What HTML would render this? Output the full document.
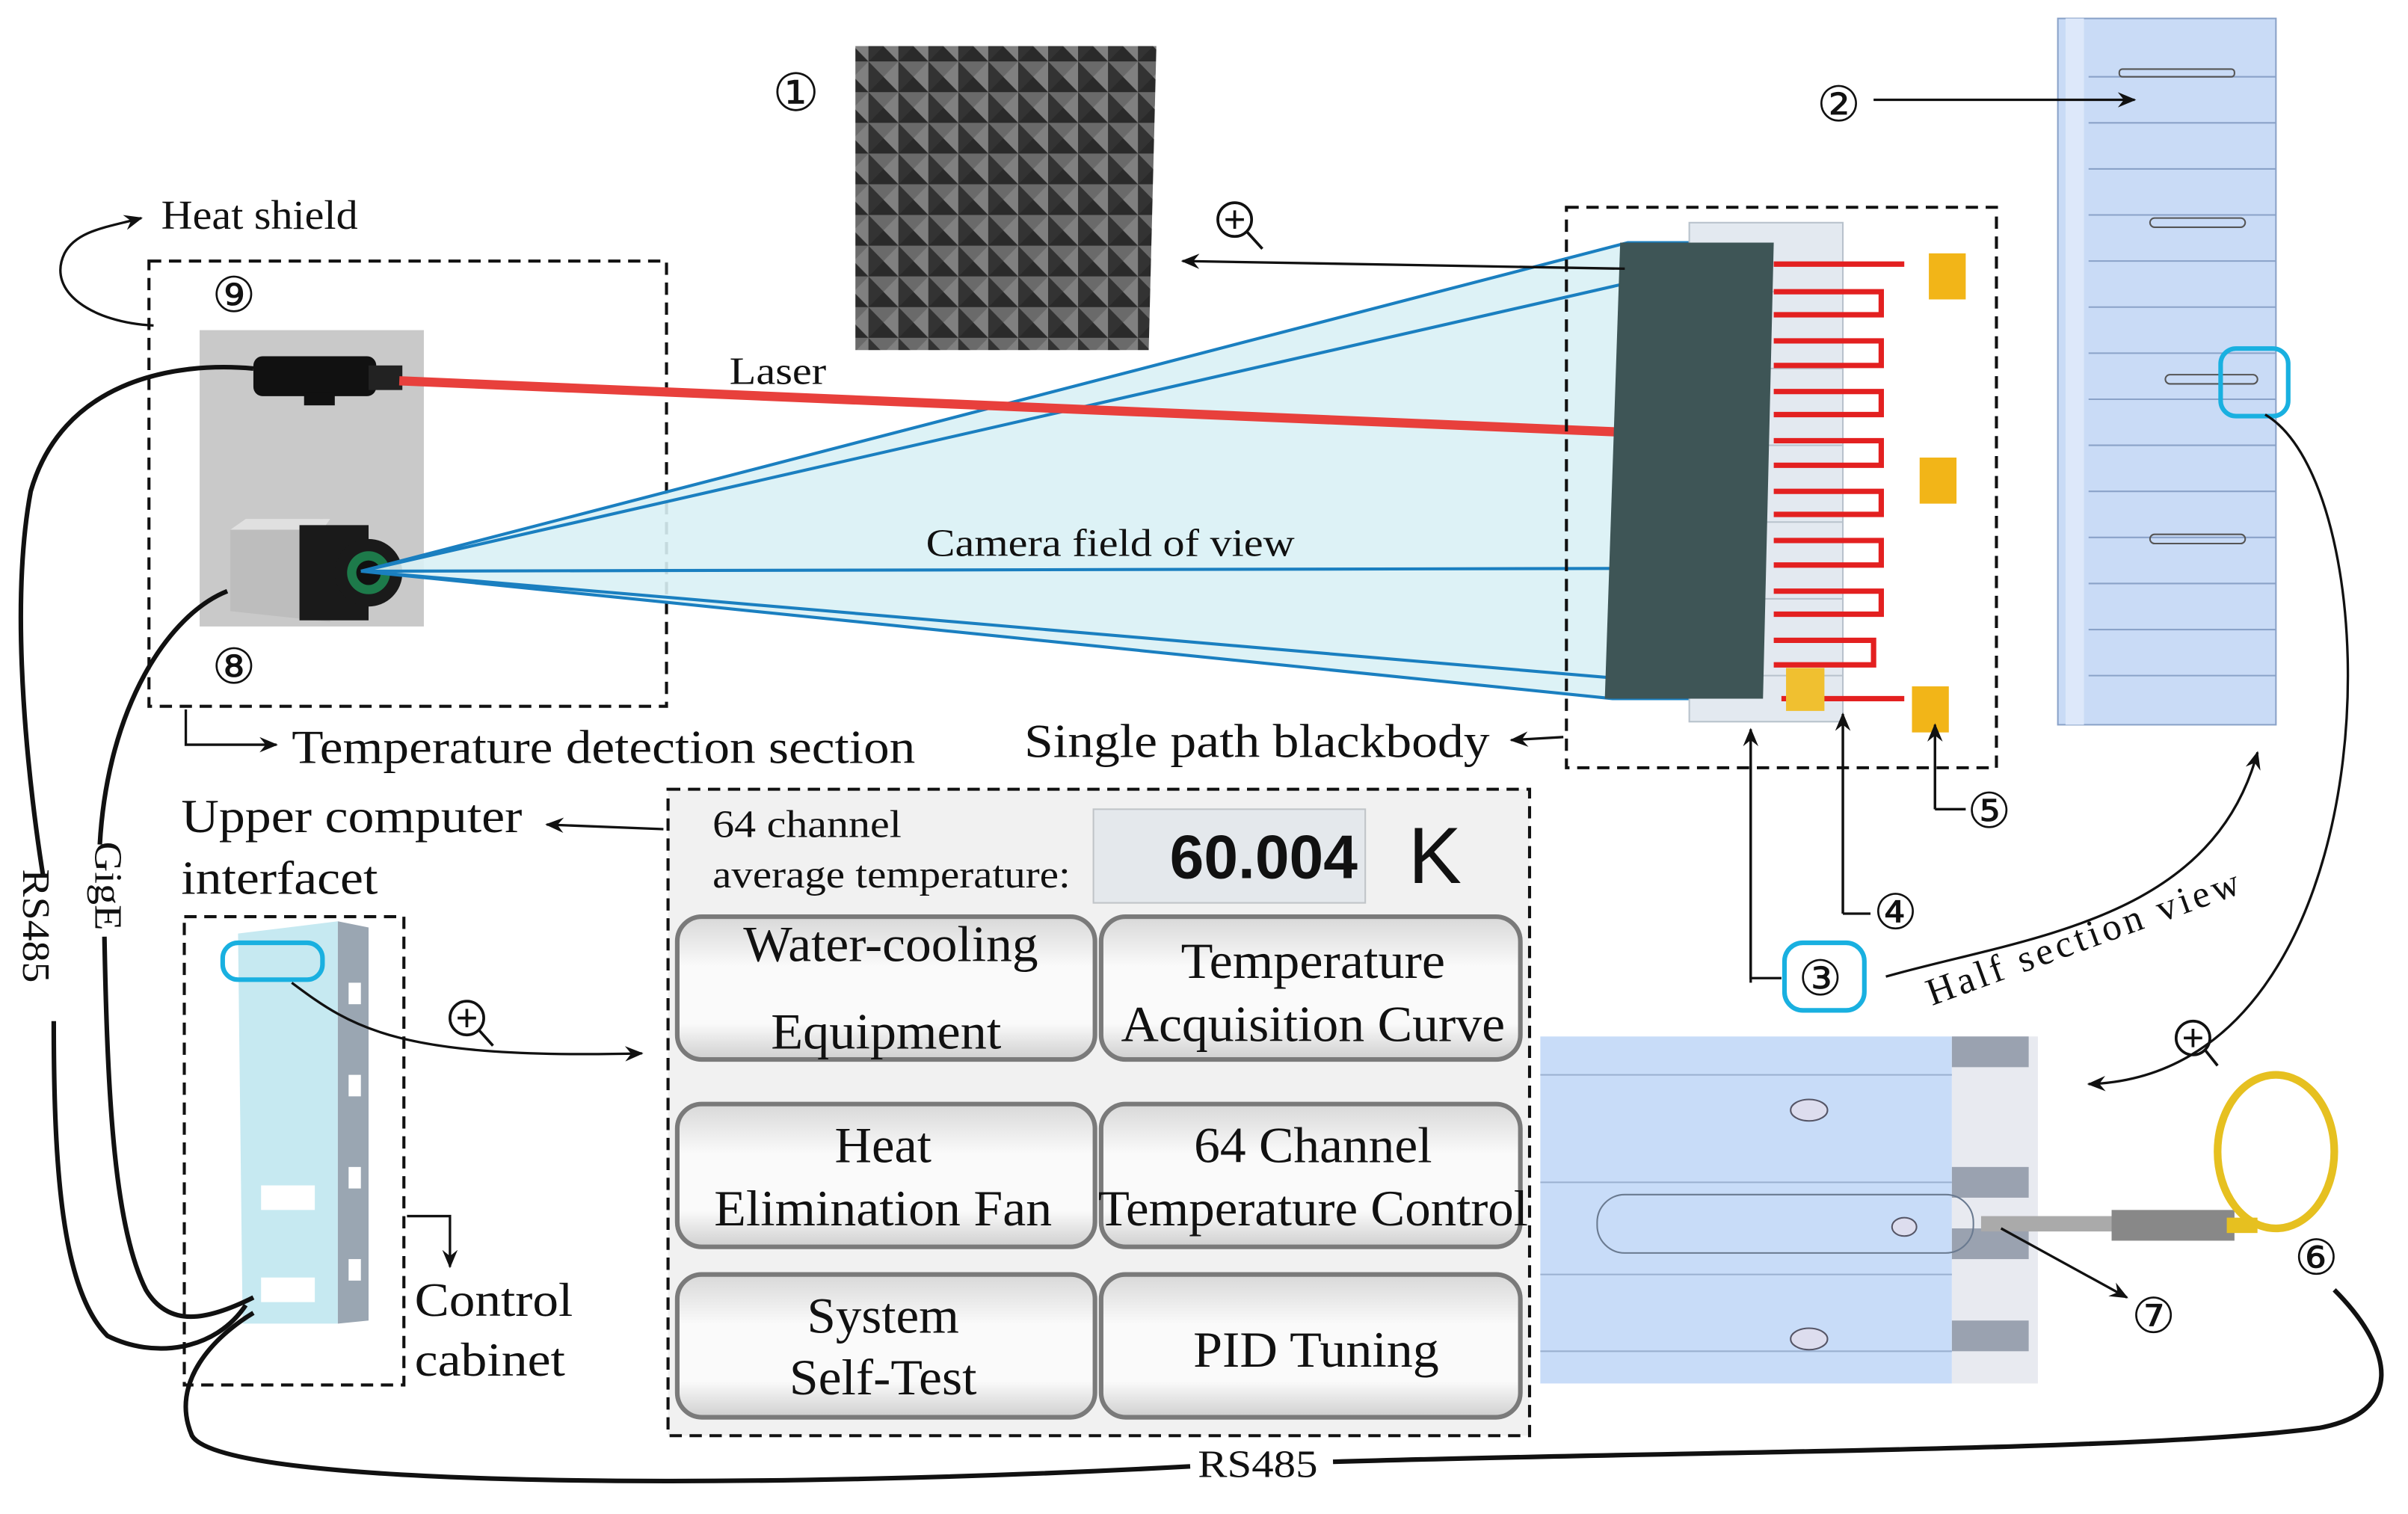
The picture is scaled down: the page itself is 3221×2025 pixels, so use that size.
<!DOCTYPE html>
<html><head><meta charset="utf-8"><style>
html,body{margin:0;padding:0;background:#fff;}
svg{display:block;}
text{font-family:"Liberation Serif",serif;fill:#111;}
</style></head><body>
<svg width="3221" height="2025" viewBox="0 0 1568 986" preserveAspectRatio="none" xmlns="http://www.w3.org/2000/svg">
<defs>
<pattern id="pyr" width="19.5" height="20" patternUnits="userSpaceOnUse">
<rect width="19.5" height="20" fill="#4a4a4a"/>
<polygon points="0,0 19.5,0 9.75,10" fill="#6a6a6a"/>
<polygon points="0,0 9.75,10 0,20" fill="#333"/>
<polygon points="0,20 9.75,10 19.5,20" fill="#2a2a2a"/>
<polygon points="19.5,0 9.75,10 19.5,20" fill="#808080"/>
</pattern>
<linearGradient id="btn" x1="0" y1="0" x2="0" y2="1">
<stop offset="0" stop-color="#d8d8d8"/><stop offset="0.35" stop-color="#fafafa"/><stop offset="0.75" stop-color="#fafafa"/><stop offset="1" stop-color="#cfcfcf"/>
</linearGradient>
<marker id="ar" markerWidth="12" markerHeight="10" refX="11" refY="5" orient="auto" markerUnits="userSpaceOnUse">
<path d="M0,0 L12,5 L0,10 L4,5 Z" fill="#111"/>
</marker>
</defs>

<polygon points="557,30 753,30 748,228 557,228" fill="url(#pyr)"/>
<text x="503" y="72" font-size="34">①</text>

<text x="105" y="149" font-size="27" textLength="128" lengthAdjust="spacingAndGlyphs">Heat shield</text>
<path d="M100,212 C60,210 30,190 42,165 C50,150 70,148 92,142" fill="none" stroke="#111" stroke-width="1.6" marker-end="url(#ar)"/>

<rect x="130" y="215" width="146" height="193" fill="#c9c9c9"/>
<rect x="97" y="170" width="337" height="290" fill="none" stroke="#111" stroke-width="2" stroke-dasharray="8,5"/>
<text x="138" y="203" font-size="32">⑨</text>
<text x="138" y="445" font-size="32">⑧</text>
<rect x="165" y="232" width="80" height="26" rx="6" fill="#111"/>
<rect x="240" y="238" width="22" height="16" fill="#222"/>
<rect x="198" y="256" width="20" height="8" fill="#111"/>
<polygon points="150,345 210,338 215,405 150,398" fill="#bdbdbd"/>
<polygon points="150,345 160,338 215,338 210,345" fill="#e0e0e0"/>
<rect x="195" y="342" width="45" height="62" fill="#1a1a1a"/>
<circle cx="240" cy="373" r="22" fill="#1a1a1a"/>
<circle cx="240" cy="373" r="14" fill="#1d7a4a"/>
<circle cx="240" cy="373" r="8" fill="#111"/>

<polygon points="235,372 1060,158 1050,455" fill="#d9f1f5" opacity="0.9"/>
<path d="M235,372 L1060,158 L1158,158 M235,372 L1050,455 L1148,455 M235,372 L1148,370 M235,372 L1158,162 M235,372 L1150,450" stroke="#1a7fc0" stroke-width="2" fill="none"/>
<line x1="260" y1="248" x2="1118" y2="284" stroke="#e8403c" stroke-width="6"/>
<text x="475" y="250" font-size="25" textLength="63" lengthAdjust="spacingAndGlyphs">Laser</text>
<text x="603" y="362" font-size="25" textLength="240" lengthAdjust="spacingAndGlyphs">Camera field of view</text>

<rect x="1020" y="135" width="280" height="365" fill="none" stroke="#111" stroke-width="2" stroke-dasharray="8,5"/>
<rect x="1100" y="145" width="100" height="325" fill="#e3e9f0" stroke="#b8c2cc"/>
<g stroke="#b8c2cc" stroke-width="1">
<line x1="1100" y1="190" x2="1200" y2="190"/><line x1="1100" y1="240" x2="1200" y2="240"/><line x1="1100" y1="290" x2="1200" y2="290"/><line x1="1100" y1="340" x2="1200" y2="340"/><line x1="1100" y1="390" x2="1200" y2="390"/><line x1="1100" y1="440" x2="1200" y2="440"/>
</g>
<polygon points="1055,158 1155,158 1148,455 1045,455" fill="#3e5556"/>
<path d="M1155,172 L1240,172 M1155,190 L1225,190 L1225,205 L1155,205 M1155,222 L1225,222 L1225,238 L1155,238 M1155,255 L1225,255 L1225,270 L1155,270 M1155,287 L1225,287 L1225,303 L1155,303 M1155,320 L1225,320 L1225,335 L1155,335 M1155,352 L1225,352 L1225,368 L1155,368 M1155,385 L1225,385 L1225,400 L1155,400 M1155,417 L1220,417 L1220,433 L1155,433 M1160,455 L1240,455" stroke="#e32020" stroke-width="3.5" fill="none"/>
<rect x="1163" y="435" width="25" height="28" fill="#f0c030"/>
<rect x="1256" y="165" width="24" height="30" fill="#f2b518"/>
<rect x="1250" y="298" width="24" height="30" fill="#f2b518"/>
<rect x="1245" y="447" width="24" height="30" fill="#f2b518"/>
<line x1="1058" y1="175" x2="770" y2="170" stroke="#111" stroke-width="1.6" marker-end="url(#ar)"/>
<circle cx="804" cy="143" r="11" fill="none" stroke="#111" stroke-width="1.8"/>
<path d="M798,143 H810 M804,137 V149 M812,151 L822,162" stroke="#111" stroke-width="1.8"/>
<text x="667" y="493" font-size="31" textLength="303" lengthAdjust="spacingAndGlyphs">Single path blackbody</text>
<line x1="1018" y1="480" x2="984" y2="482" stroke="#111" stroke-width="1.6" marker-end="url(#ar)"/>
<path d="M1140,475 V637 H1160" fill="none" stroke="#111" stroke-width="1.6"/>
<line x1="1140" y1="640" x2="1140" y2="475" stroke="#111" stroke-width="1.6" marker-end="url(#ar)"/>
<path d="M1200,595 H1218 M1200,595 V468" fill="none" stroke="#111" stroke-width="1.6"/>
<line x1="1200" y1="595" x2="1200" y2="465" stroke="#111" stroke-width="1.6" marker-end="url(#ar)"/>
<path d="M1260,527 H1280 M1260,527 V475" fill="none" stroke="#111" stroke-width="1.6"/>
<line x1="1260" y1="527" x2="1260" y2="472" stroke="#111" stroke-width="1.6" marker-end="url(#ar)"/>
<text x="1281" y="539" font-size="32">⑤</text>
<text x="1220" y="605" font-size="32">④</text>
<rect x="1162" y="614" width="52" height="44" rx="12" fill="none" stroke="#19b0e0" stroke-width="3"/>
<text x="1171" y="648" font-size="32">③</text>

<rect x="1340" y="12" width="142" height="460" fill="#c9dbf6" stroke="#8aa2c8"/>
<rect x="1345" y="12" width="12" height="460" fill="#dde8fa"/>
<g stroke="#8aa2c8" stroke-width="1">
<line x1="1360" y1="50" x2="1482" y2="50"/><line x1="1360" y1="80" x2="1482" y2="80"/><line x1="1360" y1="110" x2="1482" y2="110"/><line x1="1360" y1="140" x2="1482" y2="140"/><line x1="1360" y1="170" x2="1482" y2="170"/><line x1="1360" y1="200" x2="1482" y2="200"/><line x1="1360" y1="230" x2="1482" y2="230"/><line x1="1360" y1="260" x2="1482" y2="260"/><line x1="1360" y1="290" x2="1482" y2="290"/><line x1="1360" y1="320" x2="1482" y2="320"/><line x1="1360" y1="350" x2="1482" y2="350"/><line x1="1360" y1="380" x2="1482" y2="380"/><line x1="1360" y1="410" x2="1482" y2="410"/><line x1="1360" y1="440" x2="1482" y2="440"/>
</g>
<rect x="1400" y="142" width="62" height="6" rx="3" fill="none" stroke="#555"/>
<rect x="1410" y="244" width="60" height="6" rx="3" fill="none" stroke="#555"/>
<rect x="1400" y="348" width="62" height="6" rx="3" fill="none" stroke="#555"/>
<rect x="1380" y="45" width="75" height="5" rx="2" fill="none" stroke="#555"/>
<rect x="1446" y="227" width="44" height="44" rx="10" fill="none" stroke="#19b0e0" stroke-width="3"/>
<text x="1183" y="79" font-size="32">②</text>
<line x1="1220" y1="65" x2="1390" y2="65" stroke="#111" stroke-width="1.6" marker-end="url(#ar)"/>
<path d="M1228,636 C1320,610 1440,600 1470,490" fill="none" stroke="#111" stroke-width="1.6" marker-end="url(#ar)"/>
<text x="1258" y="655" font-size="25" transform="rotate(-20 1258 655)" textLength="215" lengthAdjust="spacing">Half section  view</text>
<path d="M1475,270 C1560,320 1560,700 1360,706" fill="none" stroke="#111" stroke-width="1.6" marker-end="url(#ar)"/>
<circle cx="1428" cy="676" r="11" fill="none" stroke="#111" stroke-width="1.8"/>
<path d="M1422,676 H1434 M1428,670 V682 M1436,684 L1444,694" stroke="#111" stroke-width="1.8"/>

<rect x="1003" y="675" width="268" height="226" fill="#c8dcf8"/>
<rect x="1271" y="675" width="56" height="226" fill="#e8eaf0"/>
<g fill="#9aa2b0"><rect x="1271" y="675" width="50" height="20"/><rect x="1271" y="760" width="50" height="20"/><rect x="1271" y="800" width="50" height="20"/><rect x="1271" y="860" width="50" height="20"/></g>
<g stroke="#9ab0d0" stroke-width="1"><line x1="1003" y1="700" x2="1271" y2="700"/><line x1="1003" y1="770" x2="1271" y2="770"/><line x1="1003" y1="830" x2="1271" y2="830"/><line x1="1003" y1="880" x2="1271" y2="880"/></g>
<rect x="1040" y="778" width="245" height="38" rx="18" fill="none" stroke="#6a7a90"/>
<ellipse cx="1178" cy="723" rx="12" ry="7" fill="#dde" stroke="#556"/>
<ellipse cx="1178" cy="872" rx="12" ry="7" fill="#dde" stroke="#556"/>
<ellipse cx="1240" cy="799" rx="8" ry="6" fill="#dde" stroke="#556"/>
<rect x="1290" y="792" width="90" height="10" fill="#aaa"/>
<rect x="1375" y="788" width="80" height="20" fill="#888"/>
<rect x="1450" y="793" width="20" height="10" fill="#e6c020"/>
<ellipse cx="1482" cy="750" rx="38" ry="50" fill="none" stroke="#e6c020" stroke-width="5"/>
<line x1="1303" y1="800" x2="1385" y2="845" stroke="#111" stroke-width="1.6" marker-end="url(#ar)"/>
<text x="1388" y="868" font-size="32">⑦</text>
<text x="1494" y="830" font-size="32">⑥</text>

<text x="118" y="542" font-size="31" textLength="222" lengthAdjust="spacingAndGlyphs">Upper computer</text>
<text x="118" y="582" font-size="31" textLength="128" lengthAdjust="spacingAndGlyphs">interfacet</text>
<line x1="432" y1="540" x2="356" y2="537" stroke="#111" stroke-width="1.6" marker-end="url(#ar)"/>
<text x="190" y="497" font-size="31" textLength="406" lengthAdjust="spacingAndGlyphs">Temperature detection section</text>
<path d="M121,462 V485 H180" fill="none" stroke="#111" stroke-width="1.6" marker-end="url(#ar)"/>

<rect x="435" y="514" width="561" height="421" fill="#f1f1f1" stroke="#111" stroke-width="2" stroke-dasharray="8,5"/>
<text x="464" y="545" font-size="25" textLength="123" lengthAdjust="spacingAndGlyphs">64 channel</text>
<text x="464" y="578" font-size="25" textLength="233" lengthAdjust="spacingAndGlyphs">average temperature:</text>
<rect x="712" y="527" width="177" height="61" fill="#e4e8ec" stroke="#c0c4c8"/>
<text x="884" y="572" font-size="40" font-weight="bold" text-anchor="end" style='font-family:"Liberation Sans",sans-serif'>60.004</text>
<text x="917" y="575" font-size="52" style='font-family:"Liberation Sans",sans-serif'>K</text>
<g stroke="#7a7a7a" stroke-width="3" fill="url(#btn)">
<rect x="441" y="597" width="272" height="93" rx="16"/><rect x="717" y="597" width="273" height="93" rx="16"/>
<rect x="441" y="719" width="272" height="93" rx="16"/><rect x="717" y="719" width="273" height="93" rx="16"/>
<rect x="441" y="830" width="272" height="93" rx="16"/><rect x="717" y="830" width="273" height="93" rx="16"/>
</g>
<g font-size="33" text-anchor="middle">
<text x="580" y="626" textLength="192" lengthAdjust="spacingAndGlyphs">Water-cooling</text><text x="577" y="683" textLength="150" lengthAdjust="spacingAndGlyphs">Equipment</text>
<text x="855" y="637" textLength="172" lengthAdjust="spacingAndGlyphs">Temperature</text><text x="855" y="678" textLength="250" lengthAdjust="spacingAndGlyphs">Acquisition Curve</text>
<text x="575" y="757" textLength="63" lengthAdjust="spacingAndGlyphs">Heat</text><text x="575" y="798" textLength="220" lengthAdjust="spacingAndGlyphs">Elimination Fan</text>
<text x="855" y="757" textLength="155" lengthAdjust="spacingAndGlyphs">64 Channel</text><text x="855" y="798" textLength="280" lengthAdjust="spacingAndGlyphs">Temperature Control</text>
<text x="575" y="868" textLength="99" lengthAdjust="spacingAndGlyphs">System</text><text x="575" y="908" textLength="122" lengthAdjust="spacingAndGlyphs">Self-Test</text>
<text x="857" y="890" textLength="160" lengthAdjust="spacingAndGlyphs">PID Tuning</text>
</g>

<rect x="120" y="597" width="143" height="305" fill="none" stroke="#111" stroke-width="2" stroke-dasharray="8,5"/>
<polygon points="155,608 220,600 220,862 158,862" fill="#c6e9f1"/>
<polygon points="220,600 240,604 240,860 220,862" fill="#9aa6b2"/>
<g fill="#fff"><rect x="170" y="772" width="35" height="16"/><rect x="170" y="832" width="35" height="16"/><rect x="227" y="640" width="8" height="14"/><rect x="227" y="700" width="8" height="14"/><rect x="227" y="760" width="8" height="14"/><rect x="227" y="820" width="8" height="14"/></g>
<rect x="145" y="614" width="65" height="24" rx="10" fill="none" stroke="#19b0e0" stroke-width="3"/>
<path d="M190,640 C230,670 260,690 418,686" fill="none" stroke="#111" stroke-width="1.6" marker-end="url(#ar)"/>
<circle cx="304" cy="663" r="11" fill="none" stroke="#111" stroke-width="1.8"/>
<path d="M298,663 H310 M304,657 V669 M312,671 L321,681" stroke="#111" stroke-width="1.8"/>
<text x="270" y="857" font-size="31" textLength="103" lengthAdjust="spacingAndGlyphs">Control</text>
<text x="270" y="896" font-size="31" textLength="98" lengthAdjust="spacingAndGlyphs">cabinet</text>
<path d="M265,792 H293 V825" fill="none" stroke="#111" stroke-width="1.6" marker-end="url(#ar)"/>

<g fill="none" stroke="#111" stroke-width="3">
<path d="M165,240 C110,235 40,250 20,320 C5,400 20,520 28,570"/>
<path d="M35,665 C35,760 40,840 70,870 C100,885 140,880 160,850"/>
<path d="M148,385 C110,400 70,460 65,550"/>
<path d="M68,610 C70,720 75,800 95,840 C110,865 135,860 165,845"/>
<path d="M165,855 C140,870 110,900 125,935 C145,970 500,970 775,955"/>
<path d="M868,952 C1100,945 1400,945 1510,930 C1565,920 1560,880 1520,840"/>
</g>
<text x="15" y="566" font-size="25" transform="rotate(90 15 566)" textLength="74" lengthAdjust="spacingAndGlyphs">RS485</text>
<text x="62" y="548" font-size="25" transform="rotate(90 62 548)" textLength="58" lengthAdjust="spacingAndGlyphs">GigE</text>
<text x="780" y="962" font-size="25" textLength="78" lengthAdjust="spacingAndGlyphs">RS485</text>
</svg>
</body></html>
